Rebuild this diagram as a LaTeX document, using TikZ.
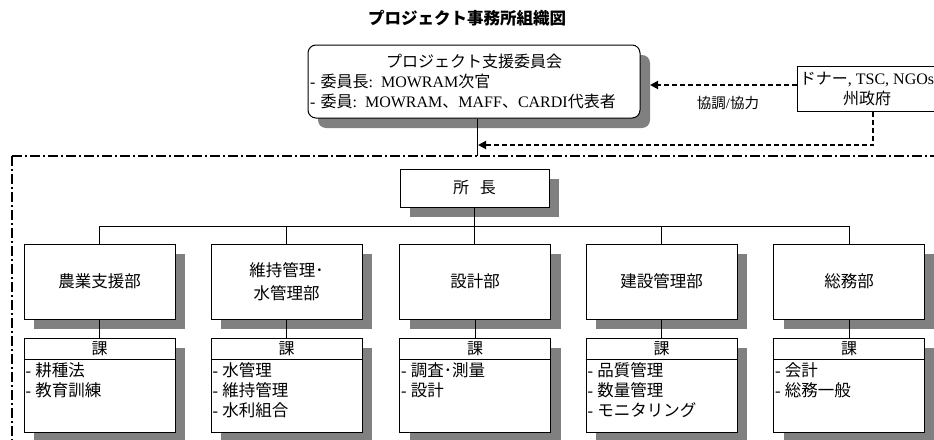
\documentclass[tikz,border=0pt]{standalone}
\usepackage{fontspec}
\setmainfont{Noto Sans CJK JP}
\newfontfamily\latfont{Liberation Serif}
\usetikzlibrary{arrows.meta,shadows}
\newcommand\hy{{\latfont -\ }}
\begin{document}
\begin{tikzpicture}[x=1pt,y=-1pt,
  every node/.style={font=\fontsize{16}{20}\selectfont, inner sep=0pt},
  box/.style={draw, line width=1pt, fill=white, minimum width=151pt, inner sep=0pt},
  shad/.style={drop shadow={shadow xshift=10pt, shadow yshift=-10pt, fill=black!50, opacity=1}},
  dept/.style={box, shad, minimum height=75pt, align=center, font=\fontsize{16.5}{23}\selectfont},
  sect/.style={box, shad, minimum height=94pt},
  item/.style={anchor=north west, align=left, font=\fontsize{16.5}{20}\selectfont},
  conn/.style={line width=1pt},
  dasharr/.style={line width=1.8pt, dash pattern=on 5pt off 3pt, -{Triangle[length=8pt,width=8pt]}},
  frameline/.style={line width=1.8pt, dash pattern=on 10pt off 3pt on 2pt off 3pt}]
\useasboundingbox (0,0) rectangle (934,439);
\clip (0,0) rectangle (934,439);

% outer frame
\draw[frameline] (12,156) rectangle (980,480);

% title
\node[font=\fontsize{16.5}{20}\selectfont\bfseries] (title) at (467,18) {プロジェクト事務所組織図};

% committee
\node[box, shad, rounded corners=8pt, minimum width=332pt, minimum height=73pt, text width=328pt, align=left] (committee) at (474,81.5)
 {\hfill プロジェクト支援委員会\hfill\null\\
  \hy 委員長{\latfont : MOWRAM}次官\\
  \hy 委員{\latfont : MOWRAM}、{\latfont MAFF}、{\latfont CARDI}代表者};

% donor
\node[draw, line width=1pt, fill=white, minimum width=140pt, minimum height=45pt, align=center] (donor) at (867,88.5)
 {ドナー{\latfont , TSC, NGOs}\\州政府};
\node[font=\fontsize{14.5}{18}\selectfont] (coop) at (728,103) {協調{\latfont /}協力};

% chief
\node[box, shad, minimum width=149pt, minimum height=38pt] (chief) at (474.5,188) {所\hspace{11pt}長};

% departments
\node[dept] (d1) at (99.5,281.5) {農業支援部};
\node[dept] (d2) at (286.5,281.5) {維持管理･\\水管理部};
\node[dept] (d3) at (475,281.5) {設計部};
\node[dept] (d4) at (661.5,281.5) {建設管理部};
\node[dept] (d5) at (849,281.5) {総務部};

% sections
\node[sect] (s1) at (99.5,385) {};
\node[sect] (s2) at (286.5,385) {};
\node[sect] (s3) at (475,385) {};
\node[sect] (s4) at (661.5,385) {};
\node[sect] (s5) at (849,385) {};
\foreach \i in {1,...,5}{
  \draw[conn] ([yshift=-22pt]s\i.north west) -- ([yshift=-22pt]s\i.north east);
  \node (k\i) at ([yshift=-11pt]s\i.north) {課};
}
\node[item] (i1) at ([xshift=2pt,yshift=-25pt]s1.north west) {\hy 耕種法\\\hy 教育訓練};
\node[item] (i2) at ([xshift=2pt,yshift=-25pt]s2.north west) {\hy 水管理\\\hy 維持管理\\\hy 水利組合};
\node[item] (i3) at ([xshift=2pt,yshift=-25pt]s3.north west) {\hy 調査･測量\\\hy 設計};
\node[item] (i4) at ([xshift=2pt,yshift=-25pt]s4.north west) {\hy 品質管理\\\hy 数量管理\\\hy モニタリング};
\node[item] (i5) at ([xshift=2pt,yshift=-25pt]s5.north west) {\hy 会計\\\hy 総務一般};

% connectors
\coordinate (bus) at (0,226);
\draw[conn] (chief.south) -- (chief.south |- d3.north);
\draw[conn] (d1.north) |- (d5.north |- bus) -- (d5.north);
\foreach \d in {d2,d4}{\draw[conn] (\d.north) -- (\d.north |- bus);}
\foreach \i in {1,...,5}{\draw[conn] (d\i.south) -- (s\i.north);}

\coordinate (cv) at (477,156);
\draw[conn] (committee.south -| cv) -- (cv);
\coordinate (a1) at (650,85);
\draw[dasharr] (donor.west |- a1) -- (a1);
\coordinate (a2) at (478,145);
\draw[dasharr] ([xshift=6pt]donor.south) |- (a2);
\end{tikzpicture}
\end{document}
